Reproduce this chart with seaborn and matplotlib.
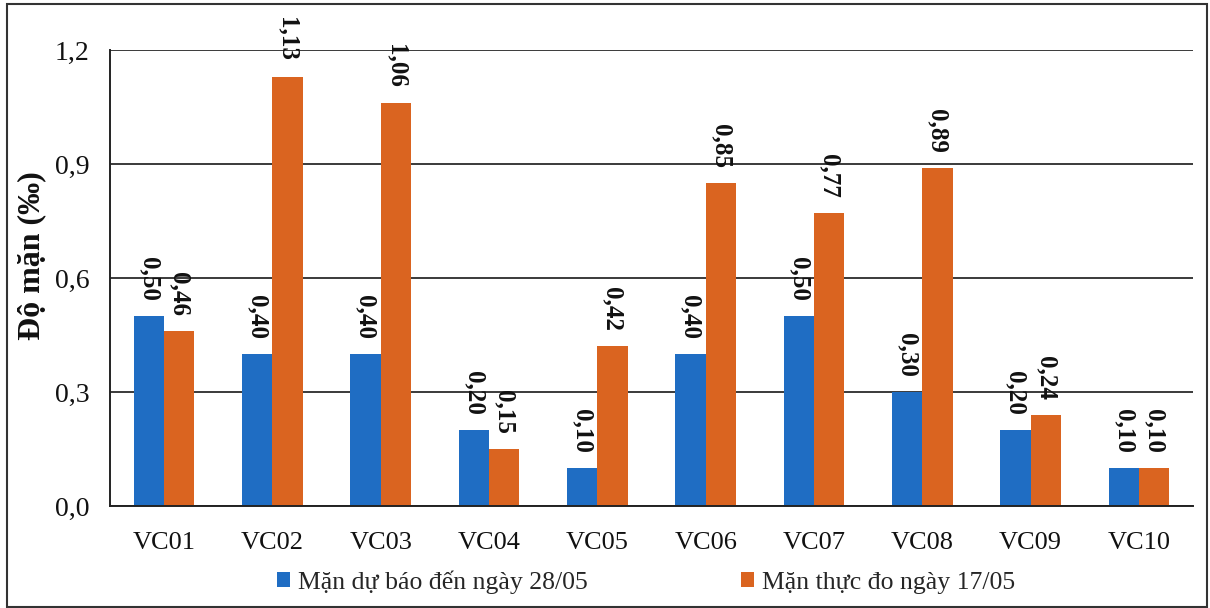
import matplotlib
matplotlib.use("Agg")
import matplotlib.pyplot as plt
import seaborn as sns
import pandas as pd
from matplotlib.patches import Patch, Rectangle

# ---- data ----
stations = ["VC01", "VC02", "VC03", "VC04", "VC05", "VC06", "VC07", "VC08", "VC09", "VC10"]
forecast = [0.50, 0.40, 0.40, 0.20, 0.10, 0.40, 0.50, 0.30, 0.20, 0.10]
measured = [0.46, 1.13, 1.06, 0.15, 0.42, 0.85, 0.77, 0.89, 0.24, 0.10]
series_names = ["Mặn dự báo đến ngày 28/05", "Mặn thực đo ngày 17/05"]
y_ticks = [0.0, 0.3, 0.6, 0.9, 1.2]
y_label = "Độ mặn (‰)"

colors = ["#1F6DC3", "#DA6420"]

sns.set_theme(style="white")
plt.rcParams["font.family"] = ["Liberation Serif", "DejaVu Serif"]

df = pd.DataFrame({
    "station": stations * 2,
    "value": forecast + measured,
    "series": [series_names[0]] * len(stations) + [series_names[1]] * len(stations),
})

fig = plt.figure(figsize=(12.1, 6.08), dpi=100)
ax = fig.add_axes([110 / 1210, 1 - 506 / 608, (1193 - 110) / 1210, (506 - 50) / 608])

sns.barplot(data=df, x="station", y="value", hue="series", palette=colors,
            width=0.56, gap=0, ax=ax, legend=False, saturation=1,
            edgecolor="none", linewidth=0)

ax.set_xlim(-0.5, len(stations) - 0.5)
ax.set_ylim(0, 1.2)
ax.set_yticks(y_ticks)
ax.set_yticklabels([f"{t:.1f}".replace(".", ",") for t in y_ticks])
ax.yaxis.grid(True, color="#3a3a3a", linewidth=1.4)
ax.xaxis.grid(False)
ax.set_axisbelow(True)
for s in ["top", "right"]:
    ax.spines[s].set_visible(False)
for s in ["left", "bottom"]:
    ax.spines[s].set_visible(True)
    ax.spines[s].set_color("#222222")
    ax.spines[s].set_linewidth(1.4)
ax.tick_params(axis="both", length=0, colors="#111111")
ax.tick_params(axis="y", pad=15, labelsize=20)
ax.tick_params(axis="x", pad=19, labelsize=19)
ax.set_xlabel("")
ax.set_ylabel(y_label, fontsize=23, fontweight="bold", color="#111111")
ax.yaxis.set_label_coords(-0.059, 0.548)

for cont, vals in zip(ax.containers, [forecast, measured]):
    ax.bar_label(cont, labels=[f"{v:.2f}".replace(".", ",") for v in vals],
                 rotation=-90, padding=11, fontsize=18, fontweight="bold",
                 color="#111111")

handles = [Patch(facecolor=c, edgecolor="none") for c in colors]
fig.legend(handles, series_names, loc="center left",
           bbox_to_anchor=(277 / 1210, 1 - 582 / 608), ncol=2, frameon=False,
           fontsize=18.5, handlelength=0.5, handleheight=0.5, handletextpad=0.3,
           columnspacing=6.0, borderpad=0, borderaxespad=0)

fig.patches.append(Rectangle((7 / 1210, 1 / 608), 1200 / 1210, 603 / 608,
                             transform=fig.transFigure, fill=False,
                             edgecolor="#333333", linewidth=1.5))

fig.savefig("out.png", dpi=100)
